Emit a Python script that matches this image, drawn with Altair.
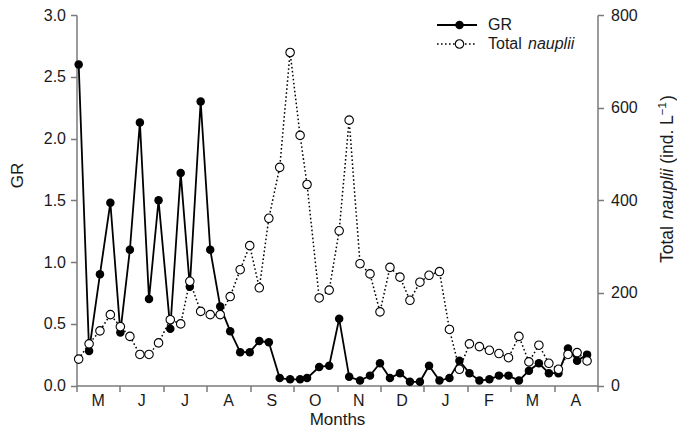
import altair as alt
import pandas as pd

# Sampling position in months since the start of May (0 = start of May)
sample_month = [0.05, 0.29, 0.54, 0.78, 1.01, 1.23, 1.46, 1.67, 1.89, 2.16,
                2.40, 2.61, 2.86, 3.08, 3.31, 3.54, 3.77, 3.99, 4.21, 4.43,
                4.68, 4.92, 5.15, 5.31, 5.59, 5.82, 6.05, 6.28, 6.53, 6.76,
                6.99, 7.22, 7.45, 7.68, 7.91, 8.12, 8.36, 8.59, 8.82, 9.05,
                9.28, 9.51, 9.73, 9.95, 10.19, 10.42, 10.65, 10.88, 11.10, 11.32,
                11.53, 11.76]
gr = [2.60, 0.28, 0.90, 1.48, 0.43, 1.10, 2.13, 0.70, 1.50, 0.46,
      1.72, 0.80, 2.30, 1.10, 0.64, 0.44, 0.27, 0.27, 0.36, 0.35,
      0.06, 0.05, 0.05, 0.06, 0.15, 0.16, 0.54, 0.07, 0.04, 0.08,
      0.18, 0.06, 0.10, 0.03, 0.03, 0.16, 0.04, 0.06, 0.20, 0.10,
      0.04, 0.05, 0.08, 0.08, 0.04, 0.12, 0.18, 0.10, 0.10, 0.30,
      0.20, 0.25]
nauplii = [57, 90, 118, 153, 127, 106, 67, 67, 92, 142,
           133, 225, 160, 153, 153, 192, 250, 302, 211, 361,
           471, 719, 540, 434, 189, 206, 334, 573, 263, 241,
           159, 255, 234, 184, 223, 238, 246, 121, 35, 90,
           84, 76, 69, 60, 106, 51, 87, 48, 35, 67,
           71, 53]
month_labels = ["M", "J", "J", "A", "S", "O", "N", "D", "J", "F", "M", "A"]
month_centers = [0.5, 1.5, 2.5, 3.5, 4.5, 5.5, 6.5, 7.5, 8.5, 9.5, 10.5, 11.5]
month_bounds = [0, 1, 2, 3, 4, 5, 6, 7, 8, 9, 10, 11, 12]
gr_ticks = [0.0, 0.5, 1.0, 1.5, 2.0, 2.5, 3.0]
nau_ticks = [0, 200, 400, 600, 800]

W, H = 521, 370.5
FONT = "Liberation Sans"
AX = "#7a7a7a"
TXT = "#1a1a1a"
MS = 72

df = pd.DataFrame({"m": sample_month, "GR": gr, "N": nauplii})
mdf = pd.DataFrame({"m": month_centers, "lab": month_labels})
one = pd.DataFrame({"k": [0]})

xenc = alt.X("m:Q", scale=alt.Scale(domain=[0, 12], nice=False, zero=False),
             axis=alt.Axis(values=month_bounds, labels=False, grid=False, ticks=True,
                           tickSize=6, title="Months", titleFontSize=17,
                           titleFontWeight="normal", titleY=26, titleColor=TXT))

gr_base = alt.Chart(df).encode(
    x=xenc,
    y=alt.Y("GR:Q", scale=alt.Scale(domain=[0, 3], nice=False),
            axis=alt.Axis(orient="left", values=gr_ticks, format=".1f", grid=False,
                          tickSize=6, labelPadding=5, title="GR", titleFontSize=17,
                          titleFontWeight="normal", titleX=-50, titleY=160,
                          titleColor=TXT)),
)
gr_layer = alt.layer(
    gr_base.mark_line(color="black", strokeWidth=1.8),
    gr_base.mark_point(filled=True, color="black", size=MS, opacity=1),
)

nau_base = alt.Chart(df).encode(
    x=alt.X("m:Q"),
    y=alt.Y("N:Q", scale=alt.Scale(domain=[0, 800], nice=False),
            axis=alt.Axis(orient="right", values=nau_ticks, format="d", grid=False,
                          tickSize=6, labelPadding=7, title=None)),
)
nau_layer = alt.layer(
    nau_base.mark_line(color="black", strokeWidth=1.5, strokeDash=[1.6, 2.4]),
    nau_base.mark_point(filled=True, fill="white", stroke="black", strokeWidth=1.1,
                        size=MS, opacity=1),
)

months_text = alt.Chart(mdf).mark_text(fontSize=16, font=FONT, baseline="top",
                                       color=TXT).encode(
    x=alt.X("m:Q"), y=alt.value(H + 7), text="lab:N")

# Legend (manual, to allow the italic species name)
lx1, lx2, ldot, ltext = 360.5, 400.5, 383, 411.5
r1, r2 = 10, 29
legend = [
    alt.Chart(one).mark_rule(color="black", strokeWidth=1.8).encode(
        x=alt.value(lx1), x2=alt.value(lx2), y=alt.value(r1)),
    alt.Chart(one).mark_point(filled=True, color="black", size=MS, opacity=1).encode(
        x=alt.value(ldot), y=alt.value(r1)),
    alt.Chart(one).mark_text(text="GR", fontSize=16, font=FONT, align="left",
                             baseline="middle", color=TXT).encode(
        x=alt.value(ltext), y=alt.value(r1)),
    alt.Chart(one).mark_rule(color="black", strokeWidth=1.5, strokeDash=[1.6, 2.4]).encode(
        x=alt.value(lx1), x2=alt.value(lx2), y=alt.value(r2)),
    alt.Chart(one).mark_point(filled=True, fill="white", stroke="black", strokeWidth=1.1,
                              size=MS, opacity=1).encode(
        x=alt.value(ldot), y=alt.value(r2)),
    alt.Chart(one).mark_text(text="Total", fontSize=16, font=FONT, align="left",
                             baseline="middle", color=TXT).encode(
        x=alt.value(ltext), y=alt.value(r2)),
    alt.Chart(one).mark_text(text="nauplii", fontSize=16, font=FONT, fontStyle="italic",
                             align="left", baseline="middle", color=TXT).encode(
        x=alt.value(ltext + 2.501 * 16), y=alt.value(r2)),
]

# Right axis title (manual, rotated, with italic part and superscript)
f = 17.5
fs = 11.5
y0 = 248
bx = 596.0
title_parts = [
    alt.Chart(one).mark_text(text="Total", fontSize=f, font=FONT, angle=270, align="left",
                             baseline="alphabetic", color=TXT).encode(
        x=alt.value(bx), y=alt.value(y0)),
    alt.Chart(one).mark_text(text="nauplii", fontSize=f, font=FONT, fontStyle="italic",
                             angle=270, align="left", baseline="alphabetic",
                             color=TXT).encode(
        x=alt.value(bx), y=alt.value(y0 - 2.501 * f)),
    alt.Chart(one).mark_text(text="(ind. L", fontSize=f, font=FONT, angle=270, align="left",
                             baseline="alphabetic", color=TXT).encode(
        x=alt.value(bx), y=alt.value(y0 - 5.669 * f)),
    alt.Chart(one).mark_text(text="\u22121", fontSize=fs, font=FONT, angle=270, align="left",
                             baseline="alphabetic", color=TXT).encode(
        x=alt.value(bx - 0.38 * f), y=alt.value(y0 - 8.448 * f)),
    alt.Chart(one).mark_text(text=")", fontSize=f, font=FONT, angle=270, align="left",
                             baseline="alphabetic", color=TXT).encode(
        x=alt.value(bx), y=alt.value(y0 - 8.448 * f - 1.14 * fs - 1)),
]

chart = alt.layer(gr_layer, nau_layer, months_text, *legend, *title_parts).resolve_scale(
    y="independent"
).properties(
    width=W, height=H,
    autosize=alt.AutoSizeParams(type="none"),
    padding={"left": 68.5, "top": 7, "right": 79.5, "bottom": 46},
).configure_view(stroke=None).configure_axis(
    domainColor=AX, tickColor=AX, domainWidth=1.5, tickWidth=1.5,
    labelFont=FONT, titleFont=FONT, labelFontSize=16, labelColor=TXT,
).configure_text(font=FONT)

chart.save("out.html", embed_options={"renderer": "svg", "actions": False})
